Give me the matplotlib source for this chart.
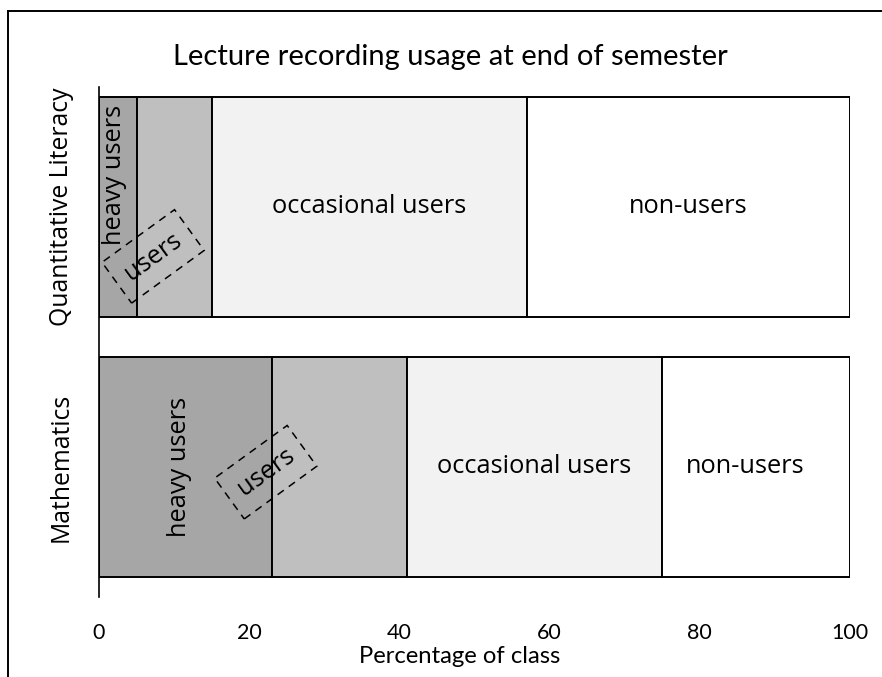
import numpy as np
import matplotlib
matplotlib.use('Agg')
import matplotlib.pyplot as plt
from matplotlib.lines import Line2D

# data
courses = ['Mathematics', 'Quantitative Literacy']
groups = ['heavy users', 'users', 'occasional users', 'non-users']
heavy = [23, 5]
users = [18, 10]
occasional = [34, 42]
non_users = [25, 43]
colors = ['#a6a6a6', '#bfbfbf', '#f2f2f2', '#ffffff']

# where the dashed "users" callouts sit (x in %, y in bar units)
users_note_x = [22.2, 7.2]
users_note_y = [-0.02, 0.81]

title_font = 'Lato'
label_font = 'Open Sans'

fig = plt.figure(figsize=(8.82, 6.77), dpi=100)
ax = fig.add_axes([99 / 882, 1 - 597 / 677, 751 / 882, 510 / 677])

ypos = np.arange(len(courses))
left = np.zeros(len(courses))
series = [heavy, users, occasional, non_users]
for vals, col in zip(series, colors):
    ax.barh(ypos, vals, left=left, height=0.846, color=col,
            edgecolor='black', linewidth=1.4)
    left += np.array(vals)

ax.set_xlim(0, 100)
ax.set_ylim(-0.5, 1.4615)
ax.set_xticks([0, 20, 40, 60, 80, 100])
ax.set_xticklabels(['0', '20', '40', '60', '80', '100'], fontfamily=title_font, fontsize=15.5)
ax.tick_params(axis='x', length=0, pad=19)
ax.set_yticks([])
for s in ['top', 'right', 'bottom']:
    ax.spines[s].set_visible(False)
ax.spines['left'].set_linewidth(1.2)
ax.set_xlabel('Percentage of class', fontfamily=title_font, fontsize=17.2,
              labelpad=2, x=(460 - 99) / 751)

fig.text(450 / 882, 1 - 57 / 677, 'Lecture recording usage at end of semester',
         ha='center', va='center', fontfamily=title_font, fontsize=21)

# course names as rotated labels
for y, name in zip(ypos, courses):
    ax.text(-0.05, y, name, transform=ax.get_yaxis_transform(), rotation=90,
            ha='center', va='center', fontfamily=label_font, fontsize=17.8)

# labels inside the segments
for i, y in enumerate(ypos):
    starts = np.cumsum([0] + [s[i] for s in series[:-1]])
    mids = starts + np.array([s[i] for s in series]) / 2
    # heavy users: vertical text
    hy = y + (0.123 if i == 1 else 0)
    hx = 2.0 if i == 1 else mids[0] - 0.8
    ax.text(hx, hy, groups[0], rotation=90, ha='center', va='center',
            fontfamily=label_font, fontsize=18.3)
    ax.text(mids[2], y, groups[2], ha='center', va='center',
            fontfamily=label_font, fontsize=18.3)
    nx = mids[3] if i == 1 else mids[3] - 1.5
    ax.text(nx, y, groups[3], ha='center', va='center',
            fontfamily=label_font, fontsize=18.3)
    ax.text(users_note_x[i], users_note_y[i], groups[1], rotation=36,
            ha='center', va='center', fontfamily=label_font, fontsize=18.3,
            rotation_mode='anchor',
            bbox=dict(boxstyle='square,pad=0.5', fc='none', ec='black',
                      ls=(0, (5, 4)), lw=1.1))

# outer frame (top and left only visible)
fig.add_artist(Line2D([8 / 882, 1], [1 - 11 / 677, 1 - 11 / 677], color='black', lw=1.4))
fig.add_artist(Line2D([8 / 882, 8 / 882], [0, 1 - 11 / 677], color='black', lw=1.4))

fig.savefig('out.png', dpi=100)
